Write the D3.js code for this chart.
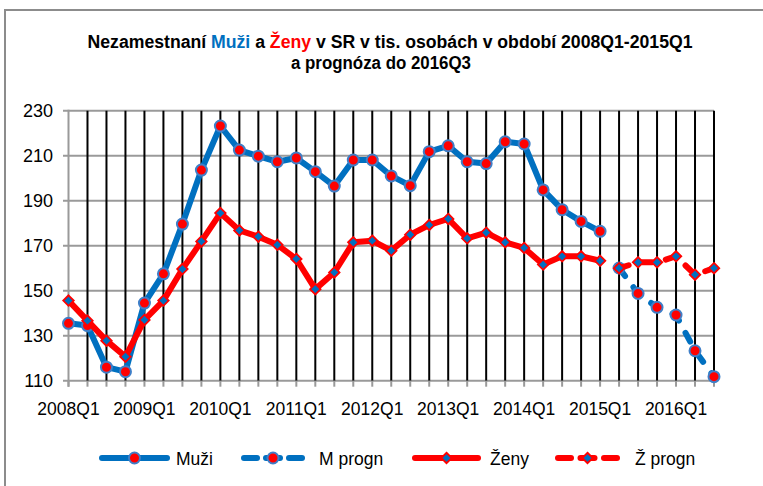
<!DOCTYPE html>
<html>
<head>
<meta charset="utf-8">
<script src="https://cdn.jsdelivr.net/npm/d3@7"></script>
<style>
  html, body { margin: 0; padding: 0; background: #fff; }
  svg { display: block; }
  text { font-family: "Liberation Sans", Arial, sans-serif; }
</style>
</head>
<body>
<svg id="chart" width="763" height="486"></svg>
<script>
// ---------------- DATA ----------------
const categories = [
  "2008Q1","2008Q2","2008Q3","2008Q4",
  "2009Q1","2009Q2","2009Q3","2009Q4",
  "2010Q1","2010Q2","2010Q3","2010Q4",
  "2011Q1","2011Q2","2011Q3","2011Q4",
  "2012Q1","2012Q2","2012Q3","2012Q4",
  "2013Q1","2013Q2","2013Q3","2013Q4",
  "2014Q1","2014Q2","2014Q3","2014Q4",
  "2015Q1","2015Q2","2015Q3","2015Q4",
  "2016Q1","2016Q2","2016Q3"
];
const xTickLabels = ["2008Q1","2009Q1","2010Q1","2011Q1","2012Q1","2013Q1","2014Q1","2015Q1","2016Q1"];
const yTicks = [110, 130, 150, 170, 190, 210, 230];

// Muži (2008Q1 - 2015Q1)
const muziCats = categories.slice(0, 29);
const muzi = [135.5, 134.5, 116, 114, 144.5, 157.5, 179.6, 203.6, 223.2, 212.5, 209.8, 207.3,
              209, 202.9, 196.5, 208.1, 208.1, 201, 196.7, 211.8, 214.4, 207.3, 206.5, 216.2,
              215.2, 194.8, 186, 180.8, 176.4];
// M progn (2015Q2 - 2016Q3)
const progCats = categories.slice(29);
const muziProgn = [160.1, 148.8, 142.6, 139.2, 123.3, 111.8];
// Ženy (2008Q1 - 2015Q1)
const zeny = [145.6, 136.7, 127.8, 120.7, 137, 145.6, 159.6, 171.9, 184.5, 176.8, 174, 170.4,
              164.1, 150.7, 158.1, 171.5, 172.2, 167.8, 174.9, 179.2, 181.9, 173.3, 175.8, 171.5,
              169, 161.6, 165.3, 165.3, 163.3];
// Ž progn (2015Q2 - 2016Q3)
const zenyProgn = [160, 162.6, 162.6, 165.3, 157.1, 160];

const legendLabels = ["Muži", "M progn", "Ženy", "Ž progn"];

// ---------------- STYLE ----------------
const BLUE = "#0070C0";
const MARK_BLUE = "#3F7FC8";
const RED = "#FF0000";

const svg = d3.select("#chart");

// outer border (left + top)
svg.append("path")
  .attr("d", "M5,486 L5,10 L763,10")
  .attr("fill", "none").attr("stroke", "#8c8c8c").attr("stroke-width", 2);

// ---------------- SCALES ----------------
const x = d3.scalePoint().domain(categories).range([68.5, 714]);
const y = d3.scaleLinear().domain([110, 230]).range([380.7, 110.7]);

const plot = svg.append("g");

// horizontal gridlines
plot.append("g").selectAll("line").data(yTicks).join("line")
  .attr("x1", 63).attr("x2", 714)
  .attr("y1", d => y(d)).attr("y2", d => y(d))
  .attr("stroke", "#9a9a9a").attr("stroke-width", 2);

// vertical gridlines (black) at every category except first (axis)
plot.append("g").selectAll("line").data(categories.slice(1)).join("line")
  .attr("x1", d => x(d)).attr("x2", d => x(d))
  .attr("y1", y(230)).attr("y2", y(110))
  .attr("stroke", "#000").attr("stroke-width", 2);

// x axis ticks (gray, below)
plot.append("g").selectAll("line").data(categories).join("line")
  .attr("x1", d => x(d)).attr("x2", d => x(d))
  .attr("y1", y(110)).attr("y2", y(110) + 6)
  .attr("stroke", "#9a9a9a").attr("stroke-width", 2);

// y axis line
plot.append("line")
  .attr("x1", x(categories[0])).attr("x2", x(categories[0]))
  .attr("y1", y(230) - 1).attr("y2", y(110) + 6)
  .attr("stroke", "#9a9a9a").attr("stroke-width", 2);

// y labels
svg.append("g").selectAll("text").data(yTicks).join("text")
  .attr("x", 53).attr("y", d => y(d) + 6.5)
  .attr("text-anchor", "end")
  .attr("font-size", 18).attr("fill", "#000")
  .text(d => d);

// x labels
svg.append("g").selectAll("text").data(xTickLabels).join("text")
  .attr("x", d => x(d)).attr("y", 415)
  .attr("text-anchor", "middle")
  .attr("font-size", 17.5).attr("fill", "#000")
  .text(d => d);

// ---------------- SERIES ----------------
const dash = "10,14";
function drawSeries(cats, vals, color, dashed) {
  const pts = cats.map((c, i) => [x(c), y(vals[i])]);
  svg.append("path")
    .attr("d", d3.line()(pts))
    .attr("fill", "none").attr("stroke", color).attr("stroke-width", 6)
    .attr("stroke-linejoin", "round").attr("stroke-linecap", "round")
    .attr("stroke-dasharray", dashed ? dash : null);
  return pts;
}
function circles(pts) {
  svg.append("g").selectAll("circle").data(pts).join("circle")
    .attr("cx", d => d[0]).attr("cy", d => d[1]).attr("r", 5.5)
    .attr("fill", RED).attr("stroke", MARK_BLUE).attr("stroke-width", 2);
}
const diamond = d3.symbol().type(d3.symbolDiamond2).size(70);
function diamonds(pts) {
  svg.append("g").selectAll("path").data(pts).join("path")
    .attr("d", diamond)
    .attr("transform", d => `translate(${d[0]},${d[1]})`)
    .attr("fill", BLUE).attr("stroke", RED).attr("stroke-width", 1.8);
}

circles(drawSeries(muziCats, muzi, BLUE, false));
circles(drawSeries(progCats, muziProgn, BLUE, true));
diamonds(drawSeries(muziCats, zeny, RED, false));
diamonds(drawSeries(progCats, zenyProgn, RED, true));

// ---------------- TITLE ----------------
const title = svg.append("text")
  .attr("x", 390).attr("y", 48)
  .attr("text-anchor", "middle")
  .attr("font-size", 18).attr("font-weight", "bold")
  .attr("textLength", 605).attr("lengthAdjust", "spacingAndGlyphs");
title.append("tspan").text("Nezamestnaní ");
title.append("tspan").attr("fill", BLUE).text("Muži");
title.append("tspan").text(" a ");
title.append("tspan").attr("fill", RED).text("Ženy");
title.append("tspan").text(" v SR v tis. osobách v období 2008Q1-2015Q1");
svg.append("text")
  .attr("x", 381).attr("y", 69)
  .attr("text-anchor", "middle")
  .attr("font-size", 18).attr("font-weight", "bold")
  .attr("textLength", 180).attr("lengthAdjust", "spacingAndGlyphs")
  .text("a prognóza do 2016Q3");

// ---------------- LEGEND ----------------
const legendItems = [
  { label: legendLabels[0], x0: 99,  x1: 170, color: BLUE, dashed: false, mark: "circle", tx: 176 },
  { label: legendLabels[1], x0: 241, x1: 305, color: BLUE, dashed: true,  mark: "circle", tx: 319 },
  { label: legendLabels[2], x0: 412, x1: 481, color: RED,  dashed: false, mark: "diamond", tx: 490 },
  { label: legendLabels[3], x0: 555, x1: 620, color: RED,  dashed: true,  mark: "diamond", tx: 635 }
];
const ly = 458;
legendItems.forEach(it => {
  const g = svg.append("g");
  if (it.dashed) {
    g.append("line").attr("x1", it.x0 + 3).attr("x2", it.x0 + 16).attr("y1", ly).attr("y2", ly)
      .attr("stroke", it.color).attr("stroke-width", 6).attr("stroke-linecap", "round");
    g.append("line").attr("x1", (it.x0 + it.x1) / 2 - 7).attr("x2", (it.x0 + it.x1) / 2 + 7).attr("y1", ly).attr("y2", ly)
      .attr("stroke", it.color).attr("stroke-width", 6).attr("stroke-linecap", "round");
    g.append("line").attr("x1", it.x1 - 16).attr("x2", it.x1 - 3).attr("y1", ly).attr("y2", ly)
      .attr("stroke", it.color).attr("stroke-width", 6).attr("stroke-linecap", "round");
  } else {
    g.append("line").attr("x1", it.x0 + 3).attr("x2", it.x1 - 3).attr("y1", ly).attr("y2", ly)
      .attr("stroke", it.color).attr("stroke-width", 6).attr("stroke-linecap", "round");
  }
  const mx = (it.x0 + it.x1) / 2;
  if (it.mark === "circle") {
    g.append("circle").attr("cx", mx).attr("cy", ly).attr("r", 5.5)
      .attr("fill", RED).attr("stroke", MARK_BLUE).attr("stroke-width", 2);
  } else {
    g.append("path").attr("d", diamond).attr("transform", `translate(${mx},${ly})`)
      .attr("fill", BLUE).attr("stroke", RED).attr("stroke-width", 1.8);
  }
  g.append("text").attr("x", it.tx).attr("y", ly + 6.5)
    .attr("font-size", 17.5).attr("fill", "#000").text(it.label);
});
</script>
</body>
</html>
